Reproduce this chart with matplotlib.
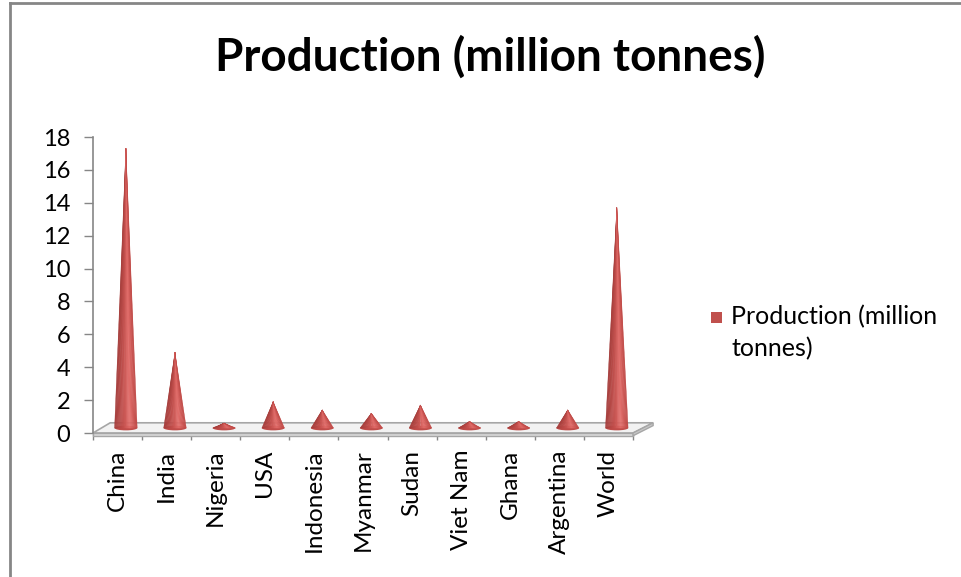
import matplotlib
matplotlib.use("Agg")
import matplotlib.pyplot as plt
from matplotlib.colors import LinearSegmentedColormap
from matplotlib.patches import Polygon, Ellipse, Rectangle
from matplotlib.lines import Line2D

# datos
paises = ["China", "India", "Nigeria", "USA", "Indonesia", "Myanmar",
          "Sudan", "Viet Nam", "Ghana", "Argentina", "World"]
produccion = [17.0, 4.6, 0.3, 1.6, 1.1, 0.9, 1.4, 0.4, 0.4, 1.1, 13.4]
marcas_y = list(range(0, 19, 2))
titulo = "Production (million tonnes)"
serie = "Production (million\ntonnes)"

plt.rcParams['font.family'] = ['Lato', 'DejaVu Sans']

fig = plt.figure(figsize=(9.61, 5.77), dpi=100)
ax = fig.add_axes([93/961, 1-433/577, 540/961, 296/577])
ax.set_xlim(-0.5, len(paises) - 0.5)
ax.set_ylim(0, 18)

# piso 3D
gris = '#a6a6a6'
n_cat = len(paises)
piso = Polygon([(-0.5, 0), (n_cat - 0.5, 0), (n_cat - 0.5 + 0.41, 0.62), (-0.5 + 0.35, 0.62)],
               closed=True, fc='#f2f2f2', ec=gris, lw=1.2, zorder=2, clip_on=False)
frente = Polygon([(-0.5, 0), (n_cat - 0.5, 0), (n_cat - 0.5, -0.17), (-0.5, -0.17)],
                 closed=True, fc='#d9d9d9', ec=gris, lw=1, zorder=2, clip_on=False)
lado = Polygon([(n_cat - 0.5, 0), (n_cat - 0.5 + 0.41, 0.62), (n_cat - 0.5 + 0.41, 0.45), (n_cat - 0.5, -0.17)],
               closed=True, fc='#c8c8c8', ec=gris, lw=1, zorder=2, clip_on=False)
for p in (piso, frente, lado):
    ax.add_patch(p)

# conos con degradado
cmap = LinearSegmentedColormap.from_list(
    "cono", [(0, "#a23a38"), (0.4, "#c44f4c"), (0.68, "#e26c69"), (1, "#bf4845")])
dx, dy = 0.17, 0.3
hw = 0.23
n = 24
for i, v in enumerate(produccion):
    cx = i + dx
    tope = dy + v
    ax.add_patch(Ellipse((cx, dy), 2*hw, 0.28, fc=cmap(0.35), ec='none', zorder=3))
    for k in range(n):
        t0, t1 = k / n, (k + 1) / n
        col = cmap((t0 + t1) / 2)
        ax.add_patch(Polygon([(cx - hw + 2*hw*t0, dy), (cx - hw + 2*hw*t1, dy), (cx, tope)],
                             closed=True, fc=col, ec=col, lw=0.3, zorder=4))

# ejes
for s in ['top', 'right', 'bottom']:
    ax.spines[s].set_visible(False)
ax.spines['left'].set_color('#868686')
ax.spines['left'].set_linewidth(1.2)
ax.set_yticks(marcas_y)
ax.tick_params(axis='y', direction='out', length=6.5, width=1, color='#868686',
               labelsize=17, pad=10)

ax.set_xticks(range(n_cat))
ax.set_xticklabels(paises, rotation=90, fontsize=17.5)
ax.set_xticks([i - 0.5 for i in range(n_cat + 1)], minor=True)
ax.tick_params(axis='x', which='major', length=0, pad=12)
ax.tick_params(axis='x', which='minor', direction='out', length=5, width=1, color='#868686')
ax.patch.set_visible(False)

# titulo
fig.text(490/961, 1-57/577, titulo, ha='center', va='center', fontsize=33, fontweight='bold')

# leyenda
fig.add_artist(Rectangle((711/961, 1-323/577), 11/961, 11/577, fc='#c0504d', ec='none',
                         transform=fig.transFigure))
fig.text(731/961, 1-305/577, serie, ha='left', va='top', fontsize=18, linespacing=1.45)

# borde del grafico
fig.add_artist(Line2D([10/961, 10/961], [0, 1-3/577], transform=fig.transFigure, color='#868686', lw=2))
fig.add_artist(Line2D([10/961, 1], [1-3/577, 1-3/577], transform=fig.transFigure, color='#868686', lw=2))

fig.savefig('out.png', dpi=100)
